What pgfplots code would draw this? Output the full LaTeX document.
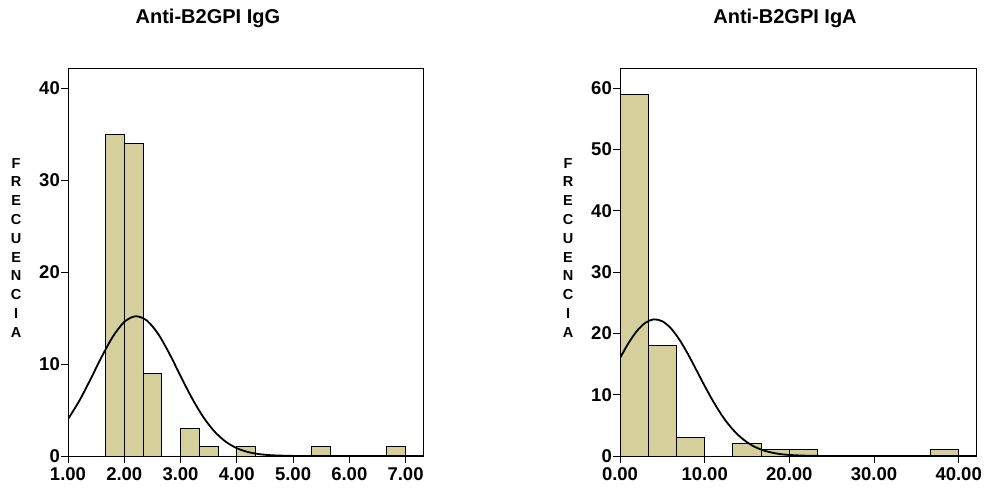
\documentclass[border=0pt]{standalone}
\usepackage{fontspec}
\setmainfont{Liberation Sans}
\usepackage{pgfplots}
\pgfplotsset{compat=1.18}
\definecolor{barfill}{RGB}{212,207,155}

\pgfplotsset{
  histo/.style={
    scale only axis,
    height=388pt,
    ymin=0,
    axis line style={black, line width=0.9pt},
    tick align=outside,
    xtick pos=left, ytick pos=left,
    major tick length=7pt,
    tick style={black, line width=0.9pt},
    /pgf/number format/assume math mode=true,
    ticklabel style={font=\fontsize{18.5}{20}\selectfont\bfseries},
    xticklabel style={inner sep=1pt, yshift=-3pt},
    yticklabel style={inner sep=1pt},
    title style={anchor=center, font=\fontsize{20}{24}\selectfont\bfseries},
    ylabel={F\\R\\E\\C\\U\\E\\N\\C\\I\\A},
    ylabel style={rotate=-90, anchor=center, align=center,
      font=\fontsize{14.5}{18.8}\selectfont\bfseries},
  },
  bars/.style={ybar interval, fill=barfill, draw=black, line width=0.8pt},
  normal/.style={black, line width=1.8pt, smooth, no markers},
}

\begin{document}
\begin{tikzpicture}
\path[use as bounding box] (0,0) rectangle (987pt,487pt);

% IgG histogram with fitted normal curve
\begin{axis}[histo,
  at={(68pt,31pt)}, anchor=south west,
  width=355pt,
  xmin=1, xmax=7.31, ymax=42.2,
  xtick={1,2,3,4,5,6,7},
  ytick={0,10,20,30,40},
  xticklabel style={/pgf/number format/.cd, fixed, fixed zerofill, precision=2},
  title={Anti-B2GPI IgG},
  title style={at={(rel axis cs:0.394,1.113)}},
  ylabel style={at={(rel axis cs:-0.146,0.537)}},
]
\addplot[bars] coordinates {
  (1.6667,35) (2.0,34) (2.3333,9) (2.6667,0) (3.0,3) (3.3333,1)
  (3.6667,0) (4.0,1) (4.3333,0) (4.6667,0) (5.0,0) (5.3333,1)
  (5.6667,0) (6.0,0) (6.3333,0) (6.6667,1) (7.0,0)
};
\addplot[normal] coordinates {
  (1.0,4.01) (1.2,5.99) (1.4,8.34) (1.6,10.80) (1.8,13.01) (2.0,14.58)
  (2.2,15.20) (2.4,14.74) (2.6,13.30) (2.8,11.16) (3.0,8.71) (3.2,6.33)
  (3.4,4.28) (3.6,2.69) (3.8,1.57) (4.0,0.85) (4.2,0.43) (4.4,0.20)
  (4.6,0.09) (4.8,0.04) (5.0,0.01) (5.4,0) (6.0,0) (7.31,0)
};
\end{axis}

% IgA histogram with fitted normal curve
\begin{axis}[histo,
  at={(620pt,31pt)}, anchor=south west,
  width=356pt,
  xmin=0, xmax=42.05, ymax=63.3,
  xtick={0,10,20,30,40},
  ytick={0,10,20,30,40,50,60},
  xticklabel style={/pgf/number format/.cd, fixed, fixed zerofill, precision=2},
  title={Anti-B2GPI IgA},
  title style={at={(rel axis cs:0.4635,1.113)}},
  ylabel style={at={(rel axis cs:-0.146,0.537)}},
]
\addplot[bars] coordinates {
  (0,59) (3.3333,18) (6.6667,3) (10.0,0) (13.3333,2) (16.6667,1)
  (20.0,1) (23.3333,0) (26.6667,0) (30.0,0) (33.3333,0) (36.6667,1)
  (40.0,0)
};
\addplot[normal] coordinates {
  (0,15.98) (1,18.41) (2,20.40) (3,21.74) (4,22.29) (5,21.98) (6,20.85)
  (7,19.02) (8,16.69) (9,14.08) (10,11.43) (11,8.93) (12,6.70) (13,4.84)
  (14,3.37) (15,2.25) (16,1.44) (17,0.89) (18,0.53) (19,0.30) (20,0.17)
  (22,0.05) (25,0) (30,0) (42.05,0)
};
\end{axis}
\end{tikzpicture}
\end{document}
